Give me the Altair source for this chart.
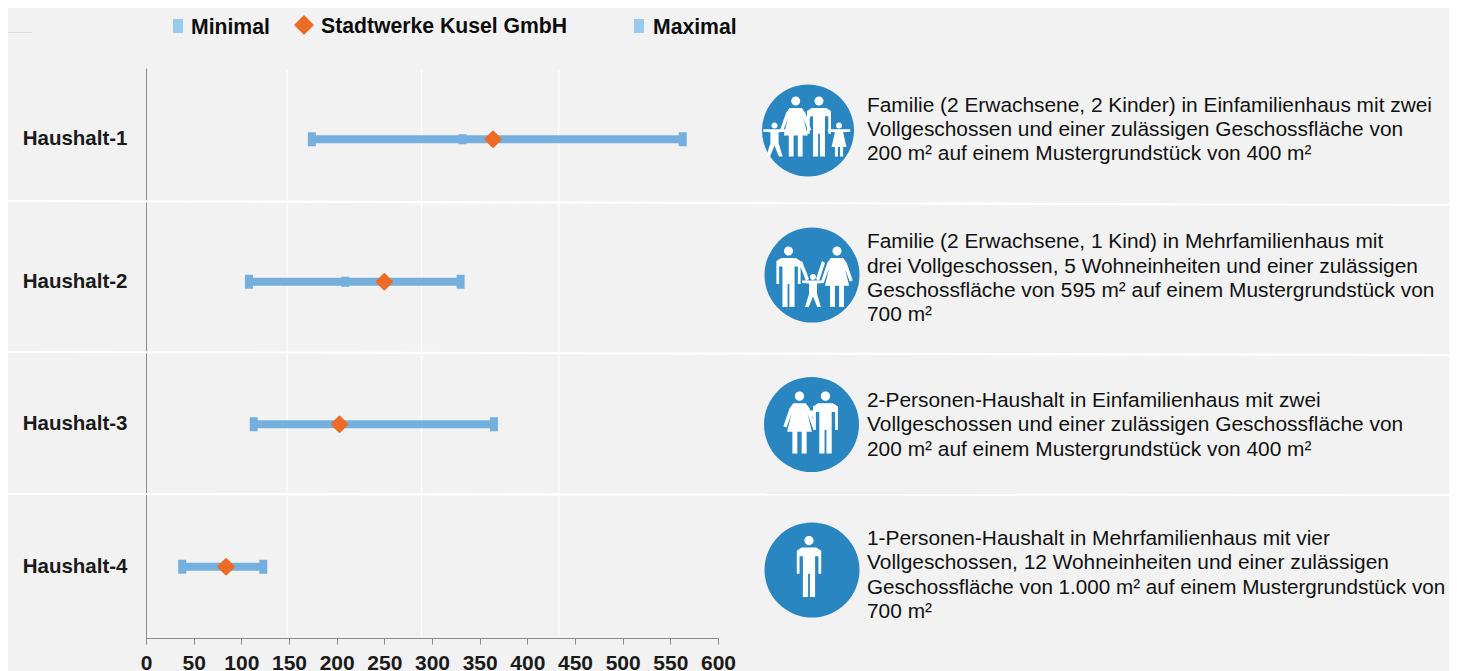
import altair as alt
import pandas as pd

households = ["Haushalt-1", "Haushalt-2", "Haushalt-3", "Haushalt-4"]
minimal = [174, 108, 113, 38]
maximal = [563, 330, 365, 123]
stadtwerke = [364, 250, 203, 84]
inner_min = [332, 209]
inner_households = ["Haushalt-1", "Haushalt-2"]
x_ticks = list(range(0, 601, 50))
grid_values = [148, 289, 433]
legend_labels = ["Minimal", "Stadtwerke Kusel GmbH", "Maximal"]

descriptions = [
    ["Familie (2 Erwachsene, 2 Kinder) in Einfamilienhaus mit zwei",
     "Vollgeschossen und einer zulässigen Geschossfläche von",
     "200 m² auf einem Mustergrundstück von 400 m²"],
    ["Familie (2 Erwachsene, 1 Kind) in Mehrfamilienhaus mit",
     "drei Vollgeschossen, 5 Wohneinheiten und einer zulässigen",
     "Geschossfläche von 595 m² auf einem Mustergrundstück von",
     "700 m²"],
    ["2-Personen-Haushalt in Einfamilienhaus mit zwei",
     "Vollgeschossen und einer zulässigen Geschossfläche von",
     "200 m² auf einem Mustergrundstück von 400 m²"],
    ["1-Personen-Haushalt in Mehrfamilienhaus mit vier",
     "Vollgeschossen, 12 Wohneinheiten und einer zulässigen",
     "Geschossfläche von 1.000 m² auf einem Mustergrundstück von",
     "700 m²"],
]
desc_baselines = [[111.5, 136, 160], [248, 272.5, 297, 321], [406.5, 431, 455.5], [545, 569, 593.5, 618]]

FONT = "Liberation Sans"
BAR = "#74afdd"
ORANGE = "#ee6b26"
LEG = "#9acbec"
ICON = "#2a86c0"
BG = "#f2f2f2"
TXT = "#1a1a1a"
X0, Y0 = 146, 68  # page position of the plot origin


def px(v):
    return alt.value(v - X0)


def py(v):
    return alt.value(v - Y0)


# ---- pictogram outlines, unit figure: x centred, y 0 (top) .. 1 (feet)
MAN = [(-.12, .19), (.12, .19), (.2, .24), (.2, .62), (.155, .62), (.155, .33), (.1, .33), (.1, 1), (.015, 1), (.015, .62),
       (-.015, .62), (-.015, 1), (-.1, 1), (-.1, .33), (-.155, .33), (-.155, .62), (-.2, .62), (-.2, .24)]
WOMAN = [(-.1, .19), (.1, .19), (.16, .27), (.26, .56), (.21, .58), (.13, .36), (.2, .65), (.115, .65), (.115, 1), (.035, 1),
         (.035, .65), (-.035, .65), (-.035, 1), (-.115, 1), (-.115, .65), (-.2, .65), (-.13, .36), (-.21, .58), (-.26, .56), (-.16, .27)]
BOY = [(-.33, .2), (.33, .2), (.33, .27), (.12, .29), (.12, .6), (.24, 1), (.13, 1), (0, .68), (-.13, 1), (-.24, 1), (-.12, .6),
       (-.12, .29), (-.33, .27)]
GIRL = [(-.33, .2), (.33, .2), (.33, .27), (.12, .29), (.22, .72), (.12, .72), (.12, 1), (.03, 1), (.03, .72), (-.03, .72),
        (-.03, 1), (-.12, 1), (-.12, .72), (-.22, .72), (-.12, .29), (-.33, .27)]
HALF = 50.0


def poly(points):
    return "M" + "L".join(f"{x/HALF:.4f},{y/HALF:.4f}" for x, y in points) + "Z"


def figure(outline, cx, top, foot, head_r=.075):
    h = foot - top
    pts = [(cx + x * h, top + y * h) for x, y in outline]
    r = head_r * h
    cy = top + head_r * h
    head = (f"M{(cx-r)/HALF:.4f},{cy/HALF:.4f}"
            f"A{r/HALF:.4f},{r/HALF:.4f} 0 1,0 {(cx+r)/HALF:.4f},{cy/HALF:.4f}"
            f"A{r/HALF:.4f},{r/HALF:.4f} 0 1,0 {(cx-r)/HALF:.4f},{cy/HALF:.4f}Z")
    return poly(pts) + head


icon_centers = [(808, 130.5), (812, 275), (811.5, 424.5), (812, 570)]
icon_diam = [92, 95, 95, 95]

icon_paths = [
    figure(WOMAN, -12.3, -34, 26) + figure(MAN, 11, -34, 26) + figure(BOY, -33.5, -8, 26, .09) + figure(GIRL, 31, -8, 26, .09)
    + poly([(-1, -15), (3, -15), (1, -10), (-2, -10)]),
    figure(MAN, -23.5, -28.5, 32) + figure(WOMAN, 25, -28.5, 32) + figure(BOY, 1, -1, 32, .09)
    + poly([(-13, -12), (-10, -14), (-3, 4), (-6, 6)]) + poly([(13, -12), (10, -14), (4, 4), (7, 6)]),
    figure(WOMAN, -12, -33, 29) + figure(MAN, 14, -33, 29) + poly([(-2, -14), (3, -14), (1, -7), (-1, -7)]),
    figure(MAN, -3, -34, 27),
]

# ---- data table
df = pd.DataFrame({"h": households, "lo": minimal, "hi": maximal, "sw": stadtwerke})
inner = pd.DataFrame({"h": inner_households, "v": inner_min})
grid = pd.DataFrame({"v": grid_values})

X_SCALE = alt.Scale(domain=[0, 600], nice=False, zero=False)
Y_SCALE = alt.Scale(domain=households, paddingInner=0, paddingOuter=0)

x_axis = alt.Axis(values=x_ticks, title=None, grid=False, labelFont=FONT, labelFontSize=21, labelFontWeight="bold",
                  labelColor=TXT, labelPadding=8, tickColor="#8c8c8c", tickSize=6, domainColor="#8c8c8c", labelOverlap=False,
                  labelFlush=False)
y_axis = alt.Axis(title=None, grid=False, ticks=False, labelFont=FONT, labelFontSize=20.5, labelFontWeight="bold",
                  labelColor=TXT, labelPadding=19, domainColor="#8c8c8c", labelLimit=200, labelOverlap=False)


def X(f):
    return alt.X(f, scale=X_SCALE, axis=x_axis)


Y = alt.Y("h:N", scale=Y_SCALE, axis=y_axis)

layers = []

# grid
layers.append(alt.Chart(grid).mark_rule(color="white", strokeWidth=1.2).encode(x=X("v:Q"), y=py(70), y2=py(636)))

# range bars
layers.append(alt.Chart(df).mark_bar(size=8, color=BAR, clip=False).encode(x=X("lo:Q"), x2="hi:Q", y=Y))

# separators
seps = [(8, 201, 1449, 205), (8, 352, 1449, 355), (8, 494, 1449, 495)]
for x1, y1, x2, y2 in seps:
    layers.append(alt.Chart(df.head(1)).mark_rule(color="white", strokeWidth=2.2).encode(x=px(x1), x2=px(x2), y=py(y1), y2=py(y2)))

layers.append(alt.Chart(df.head(1)).mark_rule(color="#d9d9d9", strokeWidth=1).encode(x=px(8), x2=px(32), y=py(32.5), y2=py(32.5)))

# caps and diamonds
layers.append(alt.Chart(df).mark_tick(orient="vertical", thickness=8, size=14, color=BAR, opacity=1).encode(x=X("lo:Q"), y=Y))
layers.append(alt.Chart(df).mark_tick(orient="vertical", thickness=8, size=14, color=BAR, opacity=1).encode(x=X("hi:Q"), y=Y))
layers.append(alt.Chart(inner).mark_tick(orient="vertical", thickness=8, size=10, color=BAR, opacity=1).encode(x=X("v:Q"), y=Y))
layers.append(alt.Chart(df).mark_point(shape="diamond", filled=True, size=215, color=ORANGE, opacity=1, stroke=ORANGE,
                                        strokeWidth=2.5, strokeJoin="round").encode(x=X("sw:Q"), y=Y))


def text(s, x, y, size, weight="normal", color="#111111", align="left", base="alphabetic"):
    return alt.Chart(df.head(1)).mark_text(font=FONT, fontSize=size, fontWeight=weight, color=color, align=align, baseline=base).encode(
        x=px(x), y=py(y), text=alt.value(s))


# legend
for lx in (173, 634):
    layers.append(alt.Chart(df.head(1)).mark_rect(color=LEG).encode(x=px(lx), x2=px(lx + 10), y=py(19), y2=py(33)))
layers.append(alt.Chart(df.head(1)).mark_point(shape="diamond", filled=True, size=400, color=ORANGE, opacity=1).encode(x=px(304), y=py(25)))
for label, lx, ly in zip(legend_labels, (191, 321, 653), (34, 33, 34)):
    layers.append(text(label, lx, ly, 21.2, "bold", "#0d0d0d"))

# icons
for (cx, cy), d, path in zip(icon_centers, icon_diam, icon_paths):
    layers.append(alt.Chart(df.head(1)).mark_circle(size=d ** 2, color=ICON, opacity=1).encode(x=px(cx), y=py(cy)))
    layers.append(alt.Chart(df.head(1)).mark_point(shape=path, filled=True, size=(2 * HALF) ** 2, color="white", opacity=1,
                                                    strokeWidth=0).encode(x=px(cx), y=py(cy)))

# descriptions
for lines, bases in zip(descriptions, desc_baselines):
    for line, b in zip(lines, bases):
        size = 20.65 if "1.000" in line else 20.88
        layers.append(text(line, 867, b, size))

chart = alt.layer(*layers).properties(
    width=572,
    height=570,
    background=BG,
    padding={"left": 138, "top": 60, "right": 731, "bottom": 33},
    autosize=alt.AutoSizeParams(type="none"),
).configure_view(stroke=None)

chart.save("out.html", embed_options={"renderer": "svg", "actions": False})
